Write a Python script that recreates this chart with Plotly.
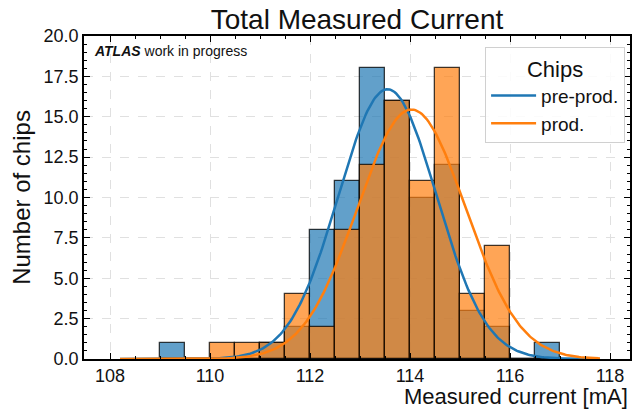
import numpy as np
import plotly.graph_objects as go

# Histogram bins (0.5 mA wide), given by their centres
bin_centres = [109.25, 109.75, 110.25, 110.75, 111.25, 111.75, 112.25, 112.75,
               113.25, 113.75, 114.25, 114.75, 115.25, 115.75, 116.25, 116.75]
preprod_counts = [1, 0, 0, 0, 1, 2, 8, 11, 18, 16, 10, 12, 3, 2, 0, 1]
prod_counts = [0, 0, 1, 1, 1, 4, 2, 8, 12, 16, 11, 18, 4, 7, 0, 0]

# Gaussian fit parameters (amplitude, mean, sigma)
preprod_fit = (16.7, 113.55, 0.98)
prod_fit = (15.45, 114.03, 1.08)
fit_span = (108.2, 117.8)

x_ticks = [108, 110, 112, 114, 116, 118]
y_ticks = [0, 2.5, 5, 7.5, 10, 12.5, 15, 17.5, 20]

BLUE = "#1f77b4"
ORANGE = "#ff7f0e"
FONT = "Liberation Sans, Arial, sans-serif"


def gauss(x, params):
    a, mu, sigma = params
    return a * np.exp(-0.5 * ((x - mu) / sigma) ** 2)


fig = go.Figure()

# Histograms, pre-production first so production sits on top
fig.add_trace(go.Bar(
    x=bin_centres, y=preprod_counts, width=0.5,
    marker=dict(color="rgba(31,119,180,0.7)",
                line=dict(color="rgba(0,0,0,0.75)", width=1.3)),
    showlegend=False, hoverinfo="skip"
))
fig.add_trace(go.Bar(
    x=bin_centres, y=prod_counts, width=0.5,
    marker=dict(color="rgba(255,127,14,0.7)",
                line=dict(color="rgba(0,0,0,0.75)", width=1.3)),
    showlegend=False, hoverinfo="skip"
))

# Fitted curves
xs = np.linspace(fit_span[0], fit_span[1], 300)
fig.add_trace(go.Scatter(x=xs, y=gauss(xs, preprod_fit), mode="lines",
                         name="pre-prod.", line=dict(color=BLUE, width=2.5)))
fig.add_trace(go.Scatter(x=xs, y=gauss(xs, prod_fit), mode="lines",
                         name="prod.", line=dict(color=ORANGE, width=2.5)))

axis_common = dict(
    showline=True, linecolor="black", linewidth=1.5, mirror="ticks",
    ticks="inside", ticklen=6, tickwidth=1.2, tickcolor="black",
    showgrid=True, gridcolor="#e0e0e0", griddash="dash", gridwidth=1,
    zeroline=False, automargin=False,
    tickfont=dict(family=FONT, size=18, color="#111"),
)

fig.update_layout(
    width=633, height=409,
    margin=dict(l=84, r=3, t=36, b=50, autoexpand=False),
    paper_bgcolor="white", plot_bgcolor="white",
    barmode="overlay", bargap=0,
    font=dict(family=FONT, color="#111"),
    title=dict(text="Total Measured Current", x=0.5, xref="paper",
               y=1 - 19 / 409, yanchor="middle",
               font=dict(family=FONT, size=28, color="#111")),
    xaxis=dict(range=[107.48, 118.4], tickvals=x_ticks,
               minor=dict(ticks="inside", ticklen=3, dtick=0.5,
                          tickcolor="black", showgrid=False),
               **axis_common),
    yaxis=dict(range=[0, 20], tickvals=y_ticks, tickformat=".1f",
               title=dict(text="Number of chips", standoff=6,
                          font=dict(family=FONT, size=24, color="#111")),
               minor=dict(ticks="inside", ticklen=3, dtick=0.5,
                          tickcolor="black", showgrid=False),
               **axis_common),
    legend=dict(
        title=dict(text="Chips", side="top center",
                   font=dict(family=FONT, size=22, color="#111")),
        font=dict(family=FONT, size=19, color="#111"),
        x=0.991, xanchor="right", y=0.966, yanchor="top",
        bgcolor="rgba(255,255,255,0.85)", bordercolor="#d0d0d0",
        borderwidth=1, itemwidth=45,
    ),
    annotations=[
        dict(text="Measured current [mA]", xref="paper", yref="paper",
             x=1, y=0, xanchor="right", yanchor="middle", yshift=-37,
             showarrow=False, font=dict(family=FONT, size=22, color="#111")),
        dict(text="<b><i>ATLAS</i></b> work in progress", xref="paper",
             yref="paper", x=0, y=1, xanchor="left", yanchor="middle",
             xshift=8, yshift=-15, showarrow=False,
             font=dict(family=FONT, size=14, color="#111")),
    ],
)

# the page's default body margin would shift the figure by 8px
fig.write_html("out.html", config={"displayModeBar": False},
               post_script="document.body.style.margin = '0';")
